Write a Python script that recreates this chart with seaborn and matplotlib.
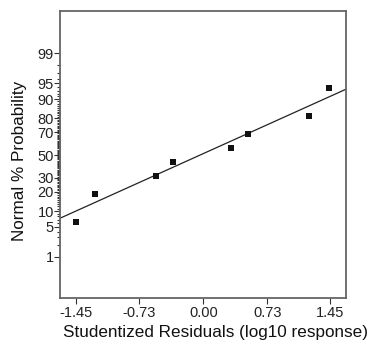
#!/usr/bin/env python3

from statistics import NormalDist

import numpy as np
import pandas as pd
from matplotlib import pyplot as plt
import seaborn as sns

# studentized residuals vs normal % probability
residuals = [-1.455, -1.231, -0.536, -0.345, 0.319, 0.510, 1.209, 1.437]
probability = [6.25, 18.75, 31.25, 43.75, 56.25, 68.75, 81.25, 93.75]

# reference line (percent at the two x ends)
line_x = [-1.634, 1.627]
line_pct = [7.4, 93.4]

x_ticks = [-1.45, -0.73, 0.00, 0.73, 1.45]
y_ticks = [1, 5, 10, 20, 30, 50, 70, 80, 90, 95, 99]
y_minor = list(range(1, 100))

nd = NormalDist()


def to_z(p):
    p = np.clip(np.asarray(p, dtype=float) / 100.0, 1e-12, 1 - 1e-12)
    return np.vectorize(nd.inv_cdf, otypes=[float])(p)


def from_z(z):
    return np.vectorize(nd.cdf, otypes=[float])(np.asarray(z, dtype=float)) * 100.0


sns.set_theme(style="ticks")
plt.rcParams["font.family"] = ["Liberation Sans", "DejaVu Sans"]

df = pd.DataFrame({"res": residuals, "prob": probability})
df_line = pd.DataFrame({"x": line_x, "y": line_pct})

fig = plt.figure(figsize=(3.67, 3.46), dpi=100)
ax = fig.add_axes([0.1635, 0.1396, 0.7793, 0.8286])
ax.set_yscale("function", functions=(to_z, from_z))

sns.lineplot(data=df_line, x="x", y="y", color="#222222", linewidth=0.9, ax=ax)
sns.scatterplot(data=df, x="res", y="prob", marker="s", s=21, color="#111111",
                edgecolor="#111111", linewidth=0, ax=ax, zorder=3)

ax.set_xlim(-1.634, 1.627)
ax.set_ylim(0.0547, 99.951)

ax.set_xticks(x_ticks)
ax.set_xticklabels(["%.2f" % v for v in x_ticks])
ax.set_yticks(y_ticks)
ax.set_yticklabels([str(v) for v in y_ticks])
ax.set_yticks(y_minor, minor=True)

ax.tick_params(axis="both", which="major", length=4, width=0.8, color="#333333",
               labelsize=10.5, labelcolor="#222222")
ax.tick_params(axis="x", which="major", pad=2)
ax.tick_params(axis="y", which="major", pad=0.5)
ax.tick_params(axis="y", which="minor", length=2.4, width=0.8, color="#333333")
ax.tick_params(axis="x", which="minor", length=0)

for sp in ax.spines.values():
    sp.set_color("#666666")
    sp.set_linewidth(1.3)

ax.set_xlabel("Studentized Residuals (log10 response)", fontsize=12.3, color="#111111",
              va="center", ha="center")
ax.set_ylabel("Normal % Probability", fontsize=12.3, color="#111111",
              va="center", ha="center")
ax.xaxis.set_label_coords(0.542, -0.123)
ax.yaxis.set_label_coords(-0.14, 0.477)

fig.savefig("out.png", dpi=100)
